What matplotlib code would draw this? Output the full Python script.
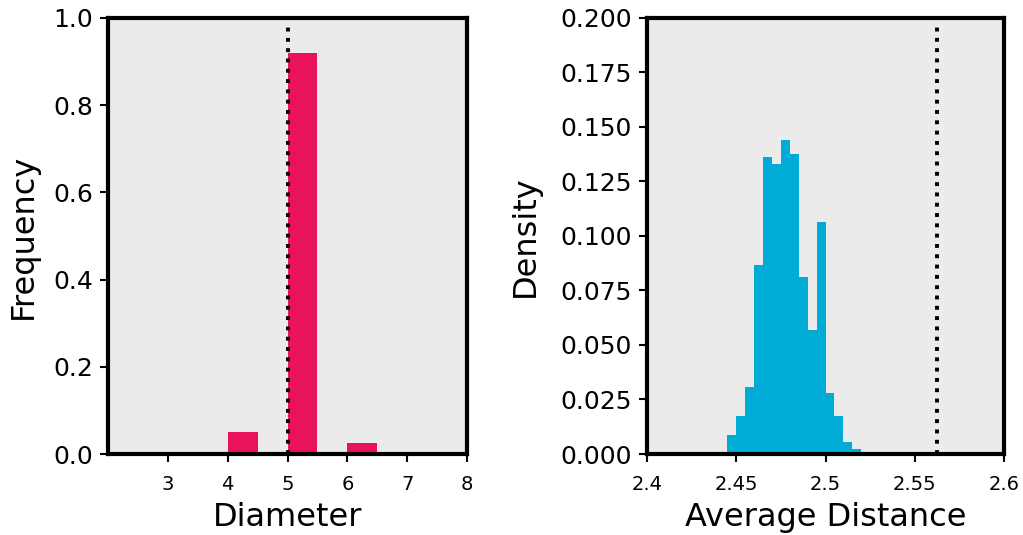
import matplotlib
matplotlib.use("Agg")
import matplotlib.pyplot as plt
import numpy as np

# left panel: diameter frequencies
diam_left = [4.0, 5.0, 6.0]
diam_freq = [0.050, 0.920, 0.025]
diam_obs = 5.0

# right panel: average distance histogram (bin edges and per-bin density)
dist_edges = [2.445, 2.450, 2.455, 2.460, 2.465, 2.470, 2.475, 2.480, 2.485,
              2.490, 2.495, 2.500, 2.505, 2.510, 2.515, 2.520, 2.525]
dist_dens = [0.0089, 0.0174, 0.0306, 0.0869, 0.1364, 0.1330, 0.1438, 0.1377,
             0.0812, 0.0569, 0.1066, 0.0279, 0.0174, 0.0056, 0.0024, 0.0008]
dist_obs = 2.5626

pink = "#E8135A"
blue = "#00ACD6"
bg = "#EBEBEB"

plt.rcParams['font.family'] = ['DejaVu Sans']

fig = plt.figure(figsize=(10.23, 5.35), dpi=100)
ax1 = fig.add_axes([0.1056, 0.1514, 0.351, 0.815])
ax2 = fig.add_axes([0.6325, 0.1514, 0.349, 0.815])

def style(ax):
    ax.set_facecolor(bg)
    for s in ax.spines.values():
        s.set_linewidth(3)
        s.set_color("black")
    ax.tick_params(axis='both', direction='out', length=6, width=1.5,
                   top=False, right=False)
    ax.tick_params(axis='x', labelsize=14, pad=9)
    ax.tick_params(axis='y', labelsize=18, pad=5)

# left
ax1.bar(diam_left, diam_freq, width=0.5, align='edge', color=pink, zorder=2)
ax1.axvline(diam_obs, ymax=0.985, color='black', linestyle=':', linewidth=2.8, zorder=3)
ax1.set_xlim(2, 8)
ax1.set_ylim(0, 1.0)
ax1.set_xticks([3, 4, 5, 6, 7, 8])
ax1.set_yticks([0.0, 0.2, 0.4, 0.6, 0.8, 1.0])
ax1.set_yticklabels(['0.0', '0.2', '0.4', '0.6', '0.8', '1.0'])
ax1.set_xlabel("Diameter", fontsize=23, labelpad=6)
ax1.set_ylabel("Frequency", fontsize=23, labelpad=10)
style(ax1)

# right
edges = np.array(dist_edges)
ax2.bar(edges[:-1], dist_dens, width=np.diff(edges), align='edge', color=blue,
        linewidth=0, zorder=2)
ax2.axvline(dist_obs, ymax=0.985, color='black', linestyle=':', linewidth=2.8, zorder=3)
ax2.set_xlim(2.4, 2.6)
ax2.set_ylim(0, 0.2)
ax2.set_xticks([2.4, 2.45, 2.5, 2.55, 2.6])
ax2.set_xticklabels(['2.4', '2.45', '2.5', '2.55', '2.6'])
yt = np.arange(0, 0.2001, 0.025)
ax2.set_yticks(yt)
ax2.set_yticklabels(["%.3f" % v for v in yt])
ax2.set_xlabel("Average Distance", fontsize=23, labelpad=6)
ax2.set_ylabel("Density", fontsize=23, labelpad=14)
style(ax2)

fig.savefig("out.png", dpi=100)
